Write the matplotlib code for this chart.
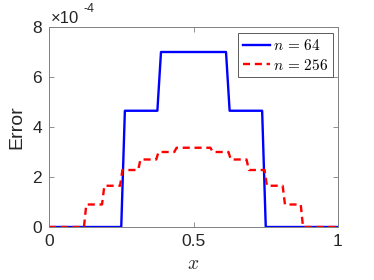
import matplotlib
matplotlib.use("Agg")
import matplotlib.pyplot as plt
import numpy as np

plt.rcParams['font.family'] = ['Liberation Sans', 'DejaVu Sans']
plt.rcParams['mathtext.fontset'] = 'cm'

# Data (error in units of 1e-4)
n64_x = [0, 0.25, 0.2625, 0.375, 0.3875, 0.6125, 0.625, 0.7375, 0.75, 1.0]
n64_err = [0, 0, 4.65, 4.65, 7.0, 7.0, 4.65, 4.65, 0, 0]

n256_edges = [0.125, 0.1875, 0.25, 0.3125, 0.375, 0.4375,
              0.5625, 0.625, 0.6875, 0.75, 0.8125, 0.875]
n256_levels = [0, 0.9, 1.65, 2.28, 2.7, 3.0, 3.17, 3.0, 2.7, 2.28, 1.65, 0.9, 0]

labels = [r'$n\,=\,64$', r'$n\,=\,256$']
xticks = [0, 0.5, 1]
xticklabels = ['0', '0.5', '1']
yticks = [0, 2, 4, 6, 8]

# build step line for n=256 from edges and levels
half = 0.004
x256 = [0.0]
y256 = [n256_levels[0]]
for i, e in enumerate(n256_edges):
    x256 += [e - half, e + half]
    y256 += [n256_levels[i], n256_levels[i + 1]]
x256.append(1.0)
y256.append(n256_levels[-1])

fig = plt.figure(figsize=(3.74, 2.80), dpi=100)
ax = fig.add_axes([49/374, 53/280, 289/374, 200/280])

ax.plot(n64_x, n64_err, color=(0, 0, 1), lw=1.7, label=labels[0])
ax.plot(x256, y256, color=(1, 0, 0), lw=1.7, ls=(0, (3, 2)), label=labels[1])

ax.set_xlim(0, 1)
ax.set_ylim(0, 8)
ax.set_xticks(xticks)
ax.set_xticklabels(xticklabels)
ax.set_yticks(yticks)

gray = '#262626'
for s in ax.spines.values():
    s.set_color('#808080')
    s.set_linewidth(0.7)
ax.tick_params(direction='in', top=True, right=True, length=3.5, width=0.6,
               color='#808080', labelsize=12.5, labelcolor=gray, pad=5)

ax.set_ylabel('Error', fontsize=14, color=gray, labelpad=5)
ax.set_xlabel(r'$x$', fontsize=14, color=gray, labelpad=5)

ax.text(0.005, 1.005, '\u00d710', transform=ax.transAxes, fontsize=12,
        color=gray, ha='left', va='bottom')
ax.text(0.118, 1.06, '-4', transform=ax.transAxes, fontsize=9,
        color=gray, ha='left', va='bottom')

leg = ax.legend(loc='upper right', bbox_to_anchor=(0.982, 0.968),
                borderaxespad=0, fontsize=11, handlelength=1.8,
                handletextpad=0.2, labelspacing=0.3, borderpad=0.3,
                fancybox=False, framealpha=1, edgecolor='#404040')
leg.get_frame().set_linewidth(0.6)

fig.savefig('out.png', dpi=100)
